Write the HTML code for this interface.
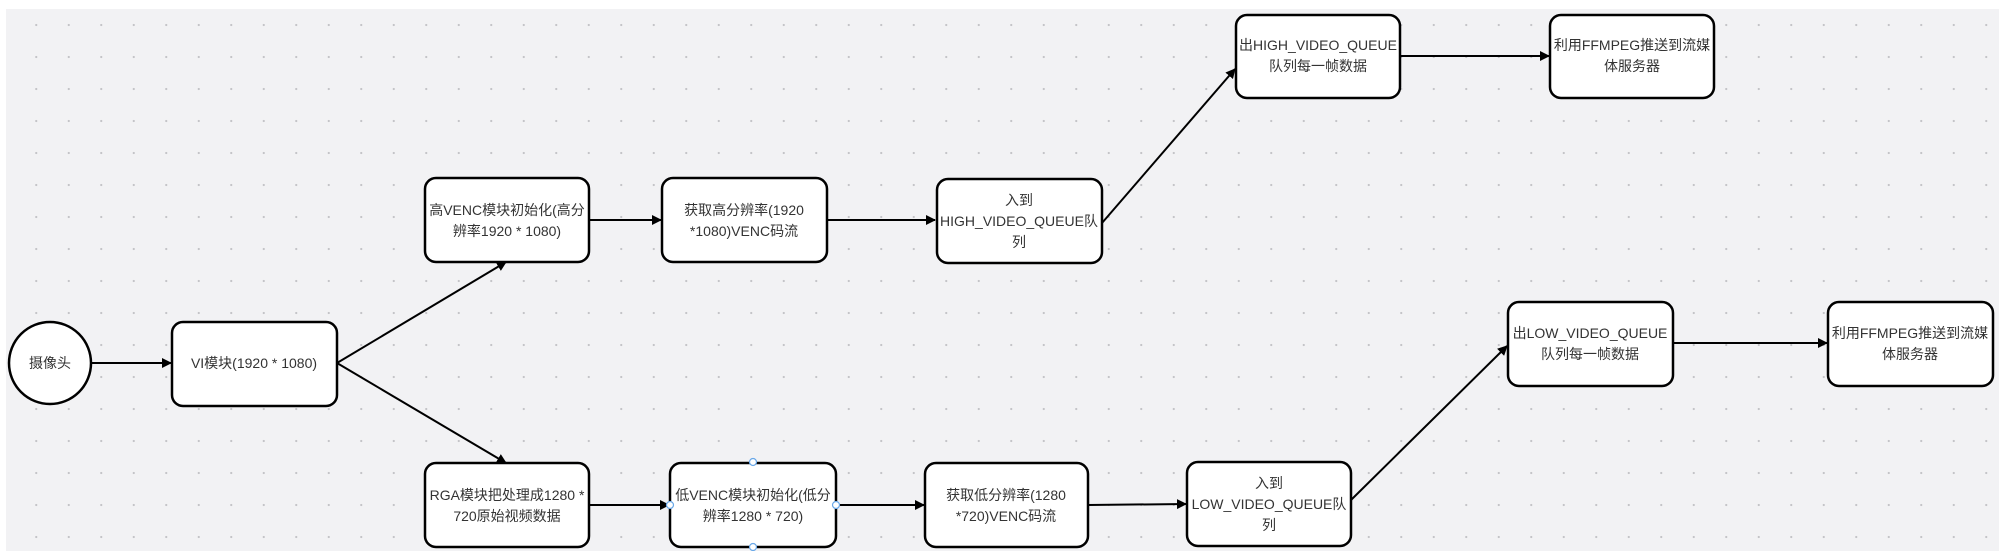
<!DOCTYPE html>
<html><head><meta charset="utf-8"><style>
html,body{margin:0;padding:0;background:#fff;}
body{width:1999px;height:551px;position:relative;overflow:hidden;}
.bg{position:absolute;left:6px;top:9px;width:1993px;height:542px;background-color:#f2f2f4;
background-image:radial-gradient(circle,#c4c4c8 0.9px,transparent 1.3px);background-size:32.5px 32px;background-position:14px 0px;}
svg{position:absolute;left:0;top:0;}
text{font-family:"Liberation Sans","Noto Sans CJK SC",sans-serif;font-size:14px;fill:#333;text-anchor:middle;}
</style></head><body>
<div class="bg"></div>
<svg width="1999" height="551" viewBox="0 0 1999 551">
<defs><marker id="a" markerWidth="10" markerHeight="10" refX="9" refY="5" orient="auto" markerUnits="userSpaceOnUse"><path d="M0,0 L10,5 L0,10 z" fill="#000"/></marker></defs>
<g stroke="#000" stroke-width="2" fill="none" marker-end="url(#a)">
<line x1="91" y1="363" x2="171" y2="363"/>
<line x1="337" y1="363" x2="506" y2="262"/>
<line x1="337" y1="363" x2="506" y2="463"/>
<line x1="589" y1="220" x2="661" y2="220"/>
<line x1="827" y1="220" x2="935" y2="220"/>
<line x1="1102" y1="223" x2="1235" y2="69"/>
<line x1="1400" y1="56" x2="1549" y2="56"/>
<line x1="589" y1="505" x2="669" y2="505"/>
<line x1="836" y1="505" x2="924" y2="505"/>
<line x1="1088" y1="505" x2="1186" y2="504"/>
<line x1="1351" y1="500" x2="1507" y2="346"/>
<line x1="1673" y1="343" x2="1827" y2="343"/>
</g>
<g stroke="#000" stroke-width="2.5" fill="#fff">
<circle cx="50" cy="363" r="41"/>
<rect x="172" y="322" width="165" height="84" rx="11"/>
<rect x="425" y="178" width="164" height="84" rx="11"/>
<rect x="662" y="178" width="165" height="84" rx="11"/>
<rect x="937" y="179" width="165" height="84" rx="11"/>
<rect x="1236" y="15" width="164" height="83" rx="11"/>
<rect x="1550" y="15" width="164" height="83" rx="11"/>
<rect x="425" y="463" width="164" height="84" rx="11"/>
<rect x="670" y="463" width="166" height="84" rx="11"/>
<rect x="925" y="463" width="163" height="84" rx="11"/>
<rect x="1187" y="462" width="164" height="84" rx="11"/>
<rect x="1508" y="302" width="165" height="84" rx="11"/>
<rect x="1828" y="302" width="165" height="84" rx="11"/>
</g>
<g fill="#fff" stroke="#6aa8e8" stroke-width="1.2">
<circle cx="753" cy="462" r="3.5"/><circle cx="753" cy="547" r="3.5"/>
<circle cx="670" cy="505" r="3.5"/><circle cx="836" cy="505" r="3.5"/>
</g>
<text x="50" y="368">摄像头</text>
<text x="254" y="368">VI模块(1920 * 1080)</text>
<text x="507" y="215">高VENC模块初始化(高分</text><text x="507" y="236">辨率1920 * 1080)</text>
<text x="744" y="215">获取高分辨率(1920</text><text x="744" y="236">*1080)VENC码流</text>
<text x="1019" y="205">入到</text><text x="1019" y="226">HIGH_VIDEO_QUEUE队</text><text x="1019" y="247">列</text>
<text x="1318" y="50">出HIGH_VIDEO_QUEUE</text><text x="1318" y="71">队列每一帧数据</text>
<text x="1632" y="50">利用FFMPEG推送到流媒</text><text x="1632" y="71">体服务器</text>
<text x="507" y="500">RGA模块把处理成1280 *</text><text x="507" y="521">720原始视频数据</text>
<text x="753" y="500">低VENC模块初始化(低分</text><text x="753" y="521">辨率1280 * 720)</text>
<text x="1006" y="500">获取低分辨率(1280</text><text x="1006" y="521">*720)VENC码流</text>
<text x="1269" y="488">入到</text><text x="1269" y="509">LOW_VIDEO_QUEUE队</text><text x="1269" y="530">列</text>
<text x="1590" y="338">出LOW_VIDEO_QUEUE</text><text x="1590" y="359">队列每一帧数据</text>
<text x="1910" y="338">利用FFMPEG推送到流媒</text><text x="1910" y="359">体服务器</text>
</svg>
</body></html>
